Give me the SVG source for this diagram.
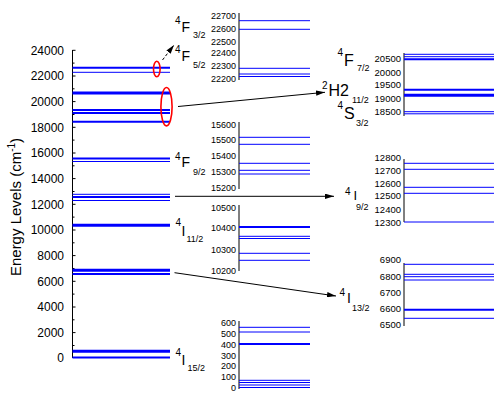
<svg xmlns="http://www.w3.org/2000/svg" width="500" height="405" viewBox="0 0 500 405">
<defs>
<style>
.lv{stroke:#0000ff;stroke-width:1;fill:none}
.lv2{stroke:#0000ff;stroke-width:2;fill:none}
.lv3{stroke:#0000ff;stroke-width:3;fill:none}
.ax{stroke:#000;stroke-width:1;fill:none}
.tl{font-family:"Liberation Sans",Arial,sans-serif;font-size:12px;fill:#000;text-anchor:end}
.ts{font-family:"Liberation Sans",Arial,sans-serif;font-size:9px;fill:#000;text-anchor:end}
.tr{font-family:"Liberation Sans",Arial,sans-serif;font-size:9.5px;fill:#000;text-anchor:end}
.big{font-family:"Liberation Sans",Arial,sans-serif;font-size:14px;fill:#000}
.sup{font-family:"Liberation Sans",Arial,sans-serif;font-size:10px;fill:#000}
.sub{font-family:"Liberation Sans",Arial,sans-serif;font-size:9px;fill:#000}
.conn{stroke:#000;stroke-width:1;fill:none}
.oval{stroke:#ff0000;stroke-width:1.6;fill:none}
</style>
<marker id="ah" viewBox="0 0 10 6" refX="10" refY="3" markerWidth="9" markerHeight="5.4" markerUnits="userSpaceOnUse" orient="auto">
<path d="M0,0 L10,3 L0,6 Z" fill="#000"/>
</marker>
</defs>
<rect width="500" height="405" fill="#fff"/>

<g id="axis-main">
<line class="ax" x1="72.5" y1="50" x2="72.5" y2="358"/>
<path class="ax" d="M72.5,50.3h3M72.5,76h3M72.5,101.6h3M72.5,127.3h3M72.5,153h3M72.5,178.6h3M72.5,204.3h3M72.5,230h3M72.5,255.6h3M72.5,281.3h3M72.5,307h3M72.5,332.6h3M72.5,357.5h3"/>
<path class="ax" d="M72.5,63.1h2M72.5,88.8h2M72.5,114.5h2M72.5,140.1h2M72.5,165.8h2M72.5,191.5h2M72.5,217.1h2M72.5,242.8h2M72.5,268.5h2M72.5,294.1h2M72.5,319.8h2M72.5,345.5h2"/>
<text class="tl" x="64" y="54.6">24000</text>
<text class="tl" x="64" y="80.3">22000</text>
<text class="tl" x="64" y="105.9">20000</text>
<text class="tl" x="64" y="131.6">18000</text>
<text class="tl" x="64" y="157.3">16000</text>
<text class="tl" x="64" y="182.9">14000</text>
<text class="tl" x="64" y="208.6">12000</text>
<text class="tl" x="64" y="234.3">10000</text>
<text class="tl" x="64" y="259.9">8000</text>
<text class="tl" x="64" y="285.6">6000</text>
<text class="tl" x="64" y="311.3">4000</text>
<text class="tl" x="64" y="336.9">2000</text>
<text class="tl" x="64" y="361.8">0</text>
<text class="big" style="font-size:15px" text-anchor="middle" transform="translate(21,207) rotate(-90)">Energy Levels (cm<tspan font-size="10" dy="-6">-1</tspan><tspan dy="6">)</tspan></text>
</g>

<g id="levels-main">
<line class="lv2" x1="72.5" y1="67.7" x2="170" y2="67.7"/>
<line class="lv" x1="72.5" y1="72.3" x2="170" y2="72.3"/>
<line class="lv3" x1="72.5" y1="93" x2="170" y2="93"/>
<line class="lv2" x1="72.5" y1="110" x2="170" y2="110"/>
<line class="lv2" x1="72.5" y1="113" x2="170" y2="113"/>
<line class="lv2" x1="72.5" y1="121.7" x2="170" y2="121.7"/>
<line class="lv2" x1="72.5" y1="158.5" x2="170" y2="158.5"/>
<line class="lv" x1="72.5" y1="161.5" x2="170" y2="161.5"/>
<line class="lv" x1="72.5" y1="194.3" x2="170" y2="194.3"/>
<line class="lv2" x1="72.5" y1="197" x2="170" y2="197"/>
<line class="lv" x1="72.5" y1="200.5" x2="170" y2="200.5"/>
<line class="lv3" x1="72.5" y1="225.3" x2="170" y2="225.3"/>
<line class="lv3" x1="72.5" y1="270.3" x2="170" y2="270.3"/>
<line class="lv2" x1="72.5" y1="274" x2="170" y2="274"/>
<line class="lv3" x1="72.5" y1="351.3" x2="170" y2="351.3"/>
<line class="lv2" x1="72.5" y1="357.5" x2="170" y2="357.5"/>
</g>

<g id="highlights">
<ellipse class="oval" cx="156.8" cy="69" rx="3.3" ry="7.8"/>
<ellipse class="oval" cx="166.5" cy="106.7" rx="5.6" ry="19.2"/>
</g>

<g id="panel-F32-F52">
<line class="ax" x1="239" y1="13" x2="239" y2="80"/>
<text class="ts" x="236" y="18.5">22700</text>
<text class="ts" x="236" y="31.9">22600</text>
<text class="ts" x="236" y="44.5">22500</text>
<text class="ts" x="236" y="56.2">22400</text>
<text class="ts" x="236" y="69.2">22300</text>
<text class="ts" x="236" y="82.2">22200</text>
<line class="lv" x1="239" y1="20.7" x2="310" y2="20.7"/>
<line class="lv" x1="239" y1="29.3" x2="310" y2="29.3"/>
<line class="lv" x1="239" y1="68.3" x2="310" y2="68.3"/>
<line class="lv" x1="239" y1="74" x2="310" y2="74"/>
<line class="lv" x1="239" y1="76.5" x2="310" y2="76.5"/>
<text class="sup" x="175" y="24">4</text>
<text class="big" x="181.5" y="31.5">F</text>
<text class="sub" x="193" y="37.5">3/2</text>
<text class="sup" x="175" y="53">4</text>
<text class="big" x="181.5" y="60.5">F</text>
<text class="sub" x="193" y="68">5/2</text>
</g>

<g id="panel-F92">
<line class="ax" x1="239" y1="122" x2="239" y2="189"/>
<text class="ts" x="236" y="127.5">15600</text>
<text class="ts" x="236" y="143.2">15500</text>
<text class="ts" x="236" y="159.2">15400</text>
<text class="ts" x="236" y="175.2">15300</text>
<text class="ts" x="236" y="191.2">15200</text>
<line class="lv" x1="239" y1="137.3" x2="310" y2="137.3"/>
<line class="lv" x1="239" y1="144.3" x2="310" y2="144.3"/>
<line class="lv" x1="239" y1="163.3" x2="310" y2="163.3"/>
<line class="lv" x1="239" y1="170.3" x2="310" y2="170.3"/>
<line class="lv" x1="239" y1="174" x2="310" y2="174"/>
<text class="sup" x="175" y="160">4</text>
<text class="big" x="181.5" y="167">F</text>
<text class="sub" x="193" y="174.5">9/2</text>
</g>

<g id="panel-I112">
<line class="ax" x1="239" y1="205" x2="239" y2="271"/>
<text class="ts" x="236" y="210.5">10500</text>
<text class="ts" x="236" y="230.5">10400</text>
<text class="ts" x="236" y="253">10300</text>
<text class="ts" x="236" y="273.8">10200</text>
<line class="lv2" x1="239" y1="227" x2="310" y2="227"/>
<line class="lv" x1="239" y1="236.3" x2="310" y2="236.3"/>
<line class="lv" x1="239" y1="238.5" x2="310" y2="238.5"/>
<line class="lv" x1="239" y1="253.3" x2="310" y2="253.3"/>
<line class="lv" x1="239" y1="260.3" x2="310" y2="260.3"/>
<text class="sup" x="175.5" y="226">4</text>
<text class="big" x="181.5" y="235.5">I</text>
<text class="sub" x="186.5" y="241.5">11/2</text>
</g>

<g id="panel-I152">
<line class="ax" x1="239" y1="321" x2="239" y2="389"/>
<text class="ts" x="236" y="325.8">600</text>
<text class="ts" x="236" y="336.8">500</text>
<text class="ts" x="236" y="348">400</text>
<text class="ts" x="236" y="358.8">300</text>
<text class="ts" x="236" y="369.4">200</text>
<text class="ts" x="236" y="380.4">100</text>
<text class="ts" x="236" y="390.8">0</text>
<line class="lv" x1="239" y1="327.3" x2="310" y2="327.3"/>
<line class="lv" x1="239" y1="332" x2="310" y2="332"/>
<line class="lv2" x1="239" y1="344" x2="310" y2="344"/>
<line class="lv" x1="239" y1="380.3" x2="310" y2="380.3"/>
<line class="lv" x1="239" y1="382.5" x2="310" y2="382.5"/>
<line class="lv" x1="239" y1="385" x2="310" y2="385"/>
<line class="lv" x1="239" y1="387.5" x2="310" y2="387.5"/>
<text class="sup" x="175.5" y="356">4</text>
<text class="big" x="181.5" y="364.5">I</text>
<text class="sub" x="187.5" y="371">15/2</text>
</g>

<g id="panel-F72-H112-S32">
<line class="ax" x1="404" y1="53" x2="404" y2="116"/>
<text class="tr" x="401" y="62.3">20500</text>
<text class="tr" x="401" y="76">20000</text>
<text class="tr" x="401" y="88.3">19500</text>
<text class="tr" x="401" y="101.6">19000</text>
<text class="tr" x="401" y="115.3">18500</text>
<line class="lv" x1="404" y1="54.3" x2="494" y2="54.3"/>
<line class="lv" x1="404" y1="56.7" x2="494" y2="56.7"/>
<line class="lv2" x1="404" y1="59.2" x2="494" y2="59.2"/>
<line class="lv2" x1="404" y1="89.7" x2="494" y2="89.7"/>
<line class="lv3" x1="404" y1="95.2" x2="494" y2="95.2"/>
<line class="lv" x1="404" y1="111.7" x2="494" y2="111.7"/>
<line class="lv" x1="404" y1="113.8" x2="494" y2="113.8"/>
<text class="sup" x="337.5" y="56">4</text>
<text class="big" style="font-size:16px" x="344" y="65.5">F</text>
<text class="sub" x="357" y="70.5">7/2</text>
<text class="sup" x="322" y="89">2</text>
<text class="big" style="font-size:16px" x="328.5" y="96">H2</text>
<text class="sub" x="352" y="102.5">11/2</text>
<text class="sup" x="337.5" y="109">4</text>
<text class="big" style="font-size:16px" x="344" y="118.5">S</text>
<text class="sub" x="356" y="125.5">3/2</text>
</g>

<g id="panel-I92">
<line class="ax" x1="404" y1="159" x2="404" y2="222"/>
<text class="tr" x="401" y="160.6">12800</text>
<text class="tr" x="401" y="173.6">12700</text>
<text class="tr" x="401" y="186.6">12600</text>
<text class="tr" x="401" y="199.3">12500</text>
<text class="tr" x="401" y="212.6">12400</text>
<text class="tr" x="401" y="225.6">12300</text>
<line class="lv" x1="404" y1="163.3" x2="494" y2="163.3"/>
<line class="lv" x1="404" y1="169.3" x2="494" y2="169.3"/>
<line class="lv" x1="404" y1="187.3" x2="494" y2="187.3"/>
<line class="lv" x1="404" y1="193.3" x2="494" y2="193.3"/>
<line class="lv" x1="404" y1="222" x2="494" y2="222"/>
<text class="sup" x="345" y="195">4</text>
<text class="big" style="font-size:13px" x="353.5" y="200">I</text>
<text class="sub" x="356" y="209.5">9/2</text>
</g>

<g id="panel-I132">
<line class="ax" x1="404" y1="263" x2="404" y2="326"/>
<text class="tr" x="401" y="263.3">6900</text>
<text class="tr" x="401" y="279.6">6800</text>
<text class="tr" x="401" y="296.3">6700</text>
<text class="tr" x="401" y="312.3">6600</text>
<text class="tr" x="401" y="328.3">6500</text>
<line class="lv" x1="404" y1="264.3" x2="494" y2="264.3"/>
<line class="lv" x1="404" y1="274.3" x2="494" y2="274.3"/>
<line class="lv" x1="404" y1="276.7" x2="494" y2="276.7"/>
<line class="lv" x1="404" y1="280" x2="494" y2="280"/>
<line class="lv2" x1="404" y1="309.7" x2="494" y2="309.7"/>
<line class="lv" x1="404" y1="318.3" x2="494" y2="318.3"/>
<text class="sup" x="339.5" y="296">4</text>
<text class="big" x="347" y="302.5">I</text>
<text class="sub" x="352" y="310.5">13/2</text>
</g>

<g id="connectors">
<line class="conn" x1="162.5" y1="60" x2="174" y2="45" stroke-dasharray="3,2" marker-end="url(#ah)"/>
<line class="conn" x1="178" y1="106.5" x2="325" y2="92.3" marker-end="url(#ah)"/>
<line class="conn" x1="175" y1="196.3" x2="334" y2="196.3" marker-end="url(#ah)"/>
<line class="conn" x1="174.5" y1="272.7" x2="336" y2="296" marker-end="url(#ah)"/>
</g>
</svg>
